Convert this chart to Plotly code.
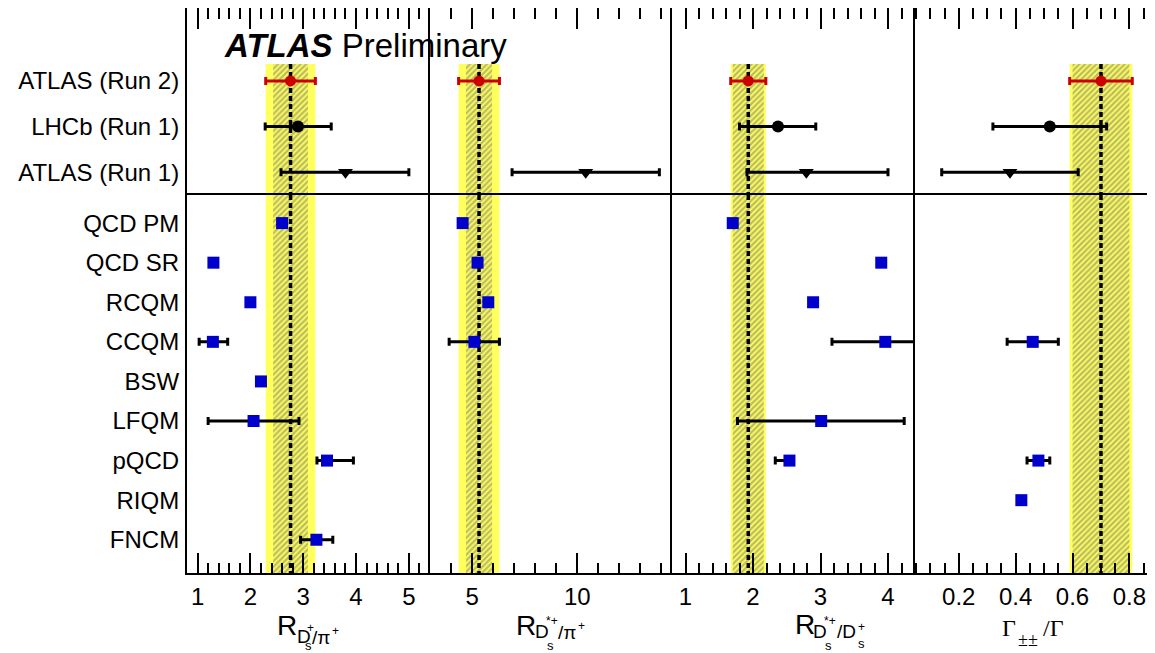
import plotly.graph_objects as go

# ---------------- data ----------------
experiments = ["ATLAS (Run 2)", "LHCb (Run 1)", "ATLAS (Run 1)"]
models = ["QCD PM", "QCD SR", "RCQM", "CCQM", "BSW", "LFQM", "pQCD", "RIQM", "FNCM"]

# panel 1: R_{Ds+/pi+}
p1_exp_val = [2.76, 2.90, 3.80]
p1_exp_em = [0.47, 0.62, 1.22]
p1_exp_ep = [0.47, 0.63, 1.20]
p1_stat = 0.33
p1_mod_val = [2.60, 1.30, 2.00, 1.29, 2.20, 2.06, 3.45, None, 3.25]
p1_mod_em = [0, 0, 0, 0.26, 0, 0.86, 0.19, 0, 0.30]
p1_mod_ep = [0, 0, 0, 0.28, 0, 0.86, 0.50, 0, 0.31]

# panel 2: R_{Ds*+/pi+}
p2_exp_val = [5.33, None, 10.4]
p2_exp_em = [0.97, 0, 3.5]
p2_exp_ep = [0.97, 0, 3.5]
p2_stat = 0.62
p2_mod_val = [4.55, 5.26, 5.77, 5.11, None, None, None, None, None]
p2_mod_em = [0, 0, 0, 1.20, 0, 0, 0, 0, 0]
p2_mod_ep = [0, 0, 0, 1.19, 0, 0, 0, 0, 0]

# panel 3: R_{Ds*+/Ds+}
p3_exp_val = [1.93, 2.37, 2.79]
p3_exp_em = [0.26, 0.57, 0.88]
p3_exp_ep = [0.26, 0.56, 1.21]
p3_stat = 0.23
p3_mod_val = [1.70, 3.90, 2.89, 3.96, None, 3.01, 2.54, None, None]
p3_mod_em = [0, 0, 0, 0.79, 0, 1.24, 0.21, 0, 0]
p3_mod_ep = [0, 0, 0, 0.80, 0, 1.23, 0.05, 0, 0]

# panel 4: Gamma_{+-+-}/Gamma
p4_exp_val = [0.70, 0.52, 0.38]
p4_exp_em = [0.11, 0.20, 0.24]
p4_exp_ep = [0.11, 0.20, 0.24]
p4_stat = 0.10
p4_mod_val = [None, None, None, 0.46, None, None, 0.48, 0.42, None]
p4_mod_em = [0, 0, 0, 0.09, 0, 0, 0.04, 0, 0]
p4_mod_ep = [0, 0, 0, 0.09, 0, 0, 0.04, 0, 0]

x_ranges = [[0.8, 5.4], [3.0, 14.5], [0.8, 4.4], [0.046, 0.89]]
x_dtick = [1, 5, 1, 0.2]
x_minor = [0.2, 1, 0.2, 0.05]

# ---------------- layout geometry (screen pixels) ----------------
OFF = 8  # page body margin
W, H = 1155 - OFF, 653 - OFF
PX0, PX1, PY0, PY1 = 187, 1155, 8, 573
YDIV = 195
col_px = [(187, 430), (430, 672), (672, 915), (915, 1155)]

def xp(px):
    return (px - PX0) / (PX1 - PX0)

def yp(py):
    return (PY1 - py) / (PY1 - PY0)

top_range = [2.5, -1.6]
bot_range = [8.84, -0.71]
band_top = -0.37

RED = "#cc0000"
BLUE = "#0000cc"
YEL = "#ffff5e"

panels = [
    (p1_exp_val, p1_exp_em, p1_exp_ep, p1_stat, p1_mod_val, p1_mod_em, p1_mod_ep),
    (p2_exp_val, p2_exp_em, p2_exp_ep, p2_stat, p2_mod_val, p2_mod_em, p2_mod_ep),
    (p3_exp_val, p3_exp_em, p3_exp_ep, p3_stat, p3_mod_val, p3_mod_em, p3_mod_ep),
    (p4_exp_val, p4_exp_em, p4_exp_ep, p4_stat, p4_mod_val, p4_mod_em, p4_mod_ep),
]

fig = go.Figure()

def ax_name(i):
    return "" if i == 1 else str(i)

for c, (ev, eem, eep, stat, mv, mem, mep) in enumerate(panels):
    for row in (0, 1):
        idx = c + 1 + 4 * row
        xa, ya = "x" + ax_name(idx), "y" + ax_name(idx)
        if row == 0:
            yb0, yb1 = band_top, top_range[0]
        else:
            yb0, yb1 = bot_range[1], bot_range[0]
        v = ev[0]
        lo, hi = v - eem[0], v + eep[0]
        slo, shi = v - stat, v + stat
        fig.add_trace(go.Scatter(x=[lo, hi, hi, lo, lo], y=[yb0, yb0, yb1, yb1, yb0],
                                 mode="lines", fill="toself", fillcolor=YEL,
                                 line=dict(width=0), xaxis=xa, yaxis=ya,
                                 hoverinfo="skip", showlegend=False))
        fig.add_trace(go.Scatter(x=[slo, shi, shi, slo, slo], y=[yb0, yb0, yb1, yb1, yb0],
                                 mode="lines", fill="toself", fillcolor=YEL,
                                 fillpattern=dict(shape="/", fgcolor="#77776a", bgcolor=YEL,
                                                  size=4, solidity=0.55),
                                 line=dict(width=0), xaxis=xa, yaxis=ya,
                                 hoverinfo="skip", showlegend=False))
        fig.add_trace(go.Scatter(x=[v, v], y=[yb0, yb1], mode="lines",
                                 line=dict(color="black", width=3.5, dash="5px,3px"),
                                 xaxis=xa, yaxis=ya, hoverinfo="skip", showlegend=False))
        if row == 0:
            styles = [("circle", RED, 11), ("circle", "black", 12), ("triangle-down", "black", 13)]
            for k in range(3):
                if ev[k] is None:
                    continue
                sym, col, sz = styles[k]
                fig.add_trace(go.Scatter(
                    x=[ev[k]], y=[k], mode="markers",
                    marker=dict(symbol=sym, color=col, size=sz, line=dict(width=0)),
                    error_x=dict(type="data", symmetric=False, array=[eep[k]],
                                 arrayminus=[eem[k]], color=col, thickness=3, width=4),
                    xaxis=xa, yaxis=ya, showlegend=False))
        else:
            xs, ys, ep, em = [], [], [], []
            for k in range(len(models)):
                if mv[k] is None:
                    continue
                xs.append(mv[k]); ys.append(k); ep.append(mep[k]); em.append(mem[k])
            fig.add_trace(go.Scatter(
                x=xs, y=ys, mode="markers",
                marker=dict(symbol="square", color=BLUE, size=12, line=dict(width=0)),
                error_x=dict(type="data", symmetric=False, array=ep, arrayminus=em,
                             color="black", thickness=3, width=4),
                xaxis=xa, yaxis=ya, showlegend=False))

layout = dict(
    width=W, height=H,
    margin=dict(l=PX0 - OFF, r=W - (PX1 - OFF), t=PY0 - OFF + 0.001, b=H - (PY1 - OFF), pad=0,
                autoexpand=False),
    paper_bgcolor="white", plot_bgcolor="white",
    font=dict(family="Liberation Sans, Arial, sans-serif", color="black"),
    showlegend=False,
)

for c in range(4):
    d = [xp(col_px[c][0]), xp(col_px[c][1])]
    for row in (0, 1):
        idx = c + 1 + 4 * row
        xkey = "xaxis" + ax_name(idx)
        ykey = "yaxis" + ax_name(idx)
        xa = dict(domain=d, range=x_ranges[c], anchor="y" + ax_name(idx),
                  showgrid=False, zeroline=False, showline=True, linewidth=2,
                  linecolor="black", ticks="inside", tickwidth=2,
                  tickcolor="black", tick0=0, dtick=x_dtick[c],
                  minor=dict(ticks="inside", ticklen=10 if row else 11, tickwidth=2,
                             tickcolor="black", dtick=x_minor[c], showgrid=False))
        if row == 0:
            xa.update(side="top", ticklen=21, showticklabels=False, mirror=False)
        else:
            xa.update(side="bottom", ticklen=20, showticklabels=True, mirror=True,
                      tickfont=dict(size=24, color="black"), ticklabelstandoff=1)
        ya = dict(anchor="x" + ax_name(idx), showgrid=False, zeroline=False,
                  showline=True, linewidth=2, linecolor="black",
                  mirror=False, ticks="", fixedrange=True)
        if row == 0:
            ya.update(domain=[yp(YDIV), 1], range=top_range)
            names = experiments
        else:
            ya.update(domain=[0, yp(YDIV)], range=bot_range)
            names = models
        if c == 0:
            ya.update(tickmode="array", tickvals=list(range(len(names))), ticktext=names,
                      showticklabels=True, tickfont=dict(size=24, color="black"),
                      ticklabelstandoff=1)
        else:
            ya.update(showticklabels=False)
        layout[xkey] = xa
        layout[ykey] = ya

fig.update_layout(**layout)

# ---------------- text annotations ----------------
def txt(s, x, y, size, family="Liberation Sans, Arial, sans-serif", anchor="left"):
    fig.add_annotation(text=s, x=xp(x), y=yp(y), xref="paper", yref="paper",
                       xanchor=anchor, yanchor="middle", showarrow=False,
                       font=dict(size=size, family=family, color="black"))

txt("<b><i>ATLAS</i></b> Preliminary", 222, 45, 33)

# panel 1 title: R_{D_s^+/pi^+}
txt("R", 275, 625, 28)
txt("D", 295, 636, 19)
txt("+", 305, 628, 12)
txt("s", 303, 645, 13)
txt("/π", 310, 637, 19)
txt("+", 330, 631, 12)

# panel 2 title: R_{D_s^{*+}/pi^+}
txt("R", 514, 625, 28)
txt("D", 533, 631, 19)
txt("*+", 544, 621, 12)
txt("s", 545, 645, 13)
txt("/π", 556, 632, 19)
txt("+", 576, 626, 12)

# panel 3 title: R_{D_s^{*+}/D_s^+}
txt("R", 793, 624, 28)
txt("D", 811, 631, 19)
txt("*+", 822, 621, 12)
txt("s", 823, 645, 13)
txt("/D", 835, 631, 19)
txt("+", 856, 627, 12)
txt("s", 856, 643, 13)

# panel 4 title: Gamma_{+-+-}/Gamma
SERIF = "Liberation Serif, Times New Roman, serif"
txt("Γ", 1000, 628, 24, SERIF)
txt("±±", 1016, 640, 18, SERIF)
txt("/Γ", 1041, 628, 24, SERIF)

fig.write_html("out.html")
